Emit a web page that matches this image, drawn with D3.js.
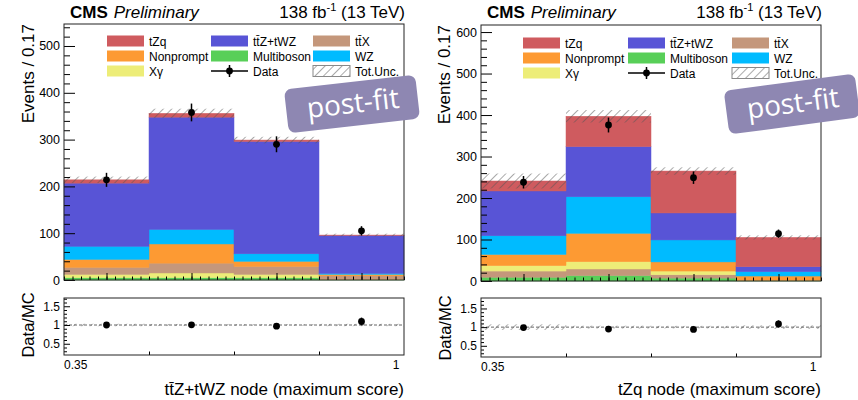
<!DOCTYPE html>
<html lang="en">
<head>
<meta charset="UTF-8">
<title>CMS post-fit DNN node distributions</title>
<script src="https://d3js.org/d3.v7.min.js"></script>
<style>
    body { margin: 0; background: #fff; }
    svg { display: block; font-family: "Liberation Sans", Arial, sans-serif; }
    .tick text { fill: #000; }
</style>
</head>
<body>
<svg id="chart" width="858" height="400"></svg>
<script>
const binEdges = [0.35, 0.5125, 0.675, 0.8375, 1];

// ttZ+tWZ node (left panel), stacked bottom -> top
const ttzMultiboson = [5, 5, 5, 0.5];
const ttzXgamma     = [7, 10, 7, 1];
const ttzTTX        = [15, 21, 17, 7.5];
const ttzNonprompt  = [17, 41, 11, 3];
const ttzWZ         = [28, 31, 16, 2];
const ttzTTZ        = [135, 240, 240, 81];
const ttzTZQ        = [7, 8, 3, 1];
const ttzUnc        = [7, 10, 7, 3];
const ttzData       = [214, 358, 290, 105];
const ttzDataErr    = [15, 19, 17, 10];

// tZq node (right panel), stacked bottom -> top
const tzqMultiboson = [9, 13, 7, 0.5];
const tzqTTX        = [15, 16, 8, 0.5];
const tzqXgamma     = [13, 17.5, 9, 1];
const tzqNonprompt  = [27, 68.5, 22, 10];
const tzqWZ         = [45, 88, 53, 10.5];
const tzqTTZ        = [108, 121, 65, 12];
const tzqTZQ        = [24, 73, 101, 70.5];
const tzqUnc        = [18, 15, 9, 5];
const tzqData       = [238, 376, 249, 114];
const tzqDataErr    = [15, 18, 15, 10];

const colors = {
    tZq: "#cf5b5f",
    ttZ: "#5854d6",
    ttX: "#c4977b",
    Nonprompt: "#fd9a33",
    Multiboson: "#58cf58",
    WZ: "#00bbff",
    Xgamma: "#eded78"
};

const legendEntries = [
    {key: "tZq", label: "tZq"},
    {key: "ttZ", label: "tt\u0304Z+tWZ"},
    {key: "ttX", label: "tt\u0304X"},
    {key: "Nonprompt", label: "Nonprompt"},
    {key: "Multiboson", label: "Multiboson"},
    {key: "WZ", label: "WZ"},
    {key: "Xgamma", label: "X\u03b3"},
    {key: "data", label: "Data"},
    {key: "unc", label: "Tot.Unc."}
];

const panels = [
    {
        x0: 64, x1: 404, top: 24, bottom: 280, yMax: 547,
        rTop: 298, rBottom: 355, rDomain: [0.2, 1.72],
        stack: [
            ["Multiboson", ttzMultiboson], ["Xgamma", ttzXgamma], ["ttX", ttzTTX],
            ["Nonprompt", ttzNonprompt], ["WZ", ttzWZ], ["ttZ", ttzTTZ], ["tZq", ttzTZQ]
        ],
        unc: ttzUnc, data: ttzData, dataErr: ttzDataErr,
        legendX: [107, 211, 313], legendY: 41,
        yLabelX: 34, ratioLabelX: 34, ratioLabelY: 325,
        box: [352, 104, -6.5],
        xTitle: "tt\u0304Z+tWZ node (maximum score)"
    },
    {
        x0: 481, x1: 821, top: 25, bottom: 281, yMax: 617,
        rTop: 298, rBottom: 357, rDomain: [0.2, 1.78],
        stack: [
            ["Multiboson", tzqMultiboson], ["ttX", tzqTTX], ["Xgamma", tzqXgamma],
            ["Nonprompt", tzqNonprompt], ["WZ", tzqWZ], ["ttZ", tzqTTZ], ["tZq", tzqTZQ]
        ],
        unc: tzqUnc, data: tzqData, dataErr: tzqDataErr,
        legendX: [523, 628, 732], legendY: 43,
        yLabelX: 450, ratioLabelX: 451, ratioLabelY: 328,
        box: [792, 104, -7.5],
        xTitle: "tZq node (maximum score)"
    }
];

const svg = d3.select("#chart");

// hatch pattern for the uncertainty
const defs = svg.append("defs");
defs.append("pattern")
    .attr("id", "hatch")
    .attr("patternUnits", "userSpaceOnUse")
    .attr("width", 6).attr("height", 6)
    .attr("patternTransform", "rotate(45)")
    .append("line")
    .attr("x1", 0).attr("y1", 0).attr("x2", 0).attr("y2", 6)
    .attr("stroke", "#555").attr("stroke-width", 1);

const bins = d3.range(binEdges.length - 1).map(i => ({lo: binEdges[i], hi: binEdges[i + 1], mid: (binEdges[i] + binEdges[i + 1]) / 2}));

function styleAxis(g) {
    g.select(".domain").remove();
    g.selectAll(".tick line").attr("stroke", "#000");
}

panels.forEach(p => {
    const g = svg.append("g");
    const x = d3.scaleLinear().domain([binEdges[0], binEdges[binEdges.length - 1]]).range([p.x0, p.x1]);
    const y = d3.scaleLinear().domain([0, p.yMax]).range([p.bottom, p.top]);
    const yr = d3.scaleLinear().domain(p.rDomain).range([p.rBottom, p.rTop]);

    // stacked histogram
    const totals = bins.map(() => 0);
    p.stack.forEach(([key, vals]) => {
        bins.forEach((b, i) => {
            const y0 = totals[i], y1 = totals[i] + vals[i];
            totals[i] = y1;
            g.append("rect")
                .attr("x", x(b.lo)).attr("width", x(b.hi) - x(b.lo))
                .attr("y", y(y1)).attr("height", y(y0) - y(y1))
                .attr("fill", colors[key]).attr("stroke", colors[key]).attr("stroke-width", 0.5);
        });
    });

    // uncertainty band
    bins.forEach((b, i) => {
        g.append("rect")
            .attr("x", x(b.lo)).attr("width", x(b.hi) - x(b.lo))
            .attr("y", y(totals[i] + p.unc[i]))
            .attr("height", y(totals[i] - p.unc[i]) - y(totals[i] + p.unc[i]))
            .attr("fill", "url(#hatch)");
    });

    // data points
    bins.forEach((b, i) => {
        g.append("line")
            .attr("x1", x(b.mid)).attr("x2", x(b.mid))
            .attr("y1", y(p.data[i] - p.dataErr[i])).attr("y2", y(p.data[i] + p.dataErr[i]))
            .attr("stroke", "#000").attr("stroke-width", 1.5);
        g.append("circle").attr("cx", x(b.mid)).attr("cy", y(p.data[i])).attr("r", 3.4).attr("fill", "#000");
    });

    // axes of upper pad
    const majorY = d3.range(0, p.yMax, 100);
    const minorY = d3.range(0, p.yMax, 20).filter(v => v % 100 !== 0);
    g.append("g").attr("transform", `translate(${p.x0},0)`)
        .call(d3.axisLeft(y).tickValues(minorY).tickSize(-6).tickFormat(""))
        .call(styleAxis);
    g.append("g").attr("transform", `translate(${p.x0},0)`)
        .call(d3.axisLeft(y).tickValues(majorY).tickSize(-11).tickPadding(4).tickFormat(d3.format("d")))
        .call(styleAxis)
        .selectAll("text").attr("font-size", 12.5).attr("font-family", "Liberation Sans, Arial, sans-serif");

    const minorX = d3.range(0, 41).map(k => binEdges[0] + k * (binEdges[1] - binEdges[0]) / 10);
    g.append("g").attr("transform", `translate(0,${p.bottom})`)
        .call(d3.axisBottom(x).tickValues(minorX).tickSize(-3.5).tickFormat(""))
        .call(styleAxis);
    g.append("g").attr("transform", `translate(0,${p.bottom})`)
        .call(d3.axisBottom(x).tickValues(bins.map(b => b.mid)).tickSize(-7).tickFormat(""))
        .call(styleAxis);

    g.append("rect")
        .attr("x", p.x0).attr("y", p.top).attr("width", p.x1 - p.x0).attr("height", p.bottom - p.top)
        .attr("fill", "none").attr("stroke", "#222").attr("stroke-width", 1);

    // legend
    legendEntries.forEach((e, k) => {
        const lx = p.legendX[k % 3], ly = p.legendY + Math.floor(k / 3) * 15;
        if (e.key === "data") {
            g.append("line").attr("x1", lx).attr("x2", lx + 37).attr("y1", ly).attr("y2", ly).attr("stroke", "#000").attr("stroke-width", 1.5);
            g.append("line").attr("x1", lx + 18.5).attr("x2", lx + 18.5).attr("y1", ly - 6).attr("y2", ly + 6).attr("stroke", "#000").attr("stroke-width", 1.5);
            g.append("circle").attr("cx", lx + 18.5).attr("cy", ly).attr("r", 3.4).attr("fill", "#000");
        } else if (e.key === "unc") {
            g.append("rect").attr("x", lx).attr("y", ly - 5.5).attr("width", 37).attr("height", 11)
                .attr("fill", "url(#hatch)").attr("stroke", "#888").attr("stroke-width", 1);
        } else {
            g.append("rect").attr("x", lx).attr("y", ly - 5.5).attr("width", 37).attr("height", 11)
                .attr("fill", colors[e.key]);
        }
        g.append("text").attr("x", lx + 42).attr("y", ly + 4.5).attr("font-size", 12).text(e.label);
    });

    // post-fit label
    const bx = g.append("g").attr("transform", `translate(${p.box[0]},${p.box[1]}) rotate(${p.box[2]})`);
    bx.append("rect").attr("x", -66).attr("y", -22).attr("width", 132).attr("height", 44).attr("rx", 7)
        .attr("fill", "#8e87b2");
    bx.append("text").attr("x", 1).attr("y", 9).attr("text-anchor", "middle")
        .attr("font-family", "Open Sans, DejaVu Sans, sans-serif").attr("font-size", 28)
        .attr("fill", "#fff").text("post-fit");

    // CMS header
    const hd = g.append("text").attr("x", p.x0 + 6).attr("y", 18).attr("font-size", 17);
    hd.append("tspan").attr("font-weight", "bold").text("CMS");
    hd.append("tspan").attr("font-style", "italic").attr("dx", 6).text("Preliminary");
    const lumi = g.append("text").attr("x", p.x1 + 1).attr("y", 18).attr("font-size", 17).attr("text-anchor", "end");
    lumi.append("tspan").text("138 fb");
    lumi.append("tspan").attr("font-size", 11).attr("dy", -7).text("-1");
    lumi.append("tspan").attr("dy", 7).text(" (13 TeV)");

    g.append("text")
        .attr("transform", `translate(${p.yLabelX},${p.top}) rotate(-90)`)
        .attr("text-anchor", "end").attr("font-size", 17).text("Events / 0.17");

    // ratio pad
    const ratio = p.data.map((d, i) => d / totals[i]);
    bins.forEach((b, i) => {
        const r = p.unc[i] / totals[i];
        g.append("rect")
            .attr("x", x(b.lo)).attr("width", x(b.hi) - x(b.lo))
            .attr("y", yr(1 + r)).attr("height", yr(1 - r) - yr(1 + r))
            .attr("fill", "url(#hatch)");
    });
    g.append("line").attr("x1", p.x0).attr("x2", p.x1).attr("y1", yr(1)).attr("y2", yr(1))
        .attr("stroke", "#666").attr("stroke-dasharray", "3,2").attr("stroke-width", 1);
    bins.forEach((b, i) => {
        g.append("line")
            .attr("x1", x(b.mid)).attr("x2", x(b.mid))
            .attr("y1", yr(ratio[i] - p.dataErr[i] / totals[i])).attr("y2", yr(ratio[i] + p.dataErr[i] / totals[i]))
            .attr("stroke", "#000").attr("stroke-width", 1.5);
        g.append("circle").attr("cx", x(b.mid)).attr("cy", yr(ratio[i])).attr("r", 3.4).attr("fill", "#000");
    });

    const rMinor = d3.range(3, 18).map(v => v / 10).filter(v => v <= p.rDomain[1] && Math.abs(v * 2 - Math.round(v * 2)) > 1e-6);
    g.append("g").attr("transform", `translate(${p.x0},0)`)
        .call(d3.axisLeft(yr).tickValues(rMinor).tickSize(-3).tickFormat(""))
        .call(styleAxis);
    g.append("g").attr("transform", `translate(${p.x0},0)`)
        .call(d3.axisLeft(yr).tickValues([0.5, 1, 1.5]).tickSize(-6).tickPadding(4).tickFormat(d => d3.format("")(d)))
        .call(styleAxis)
        .selectAll("text").attr("font-size", 12).attr("font-family", "Liberation Sans, Arial, sans-serif");
    g.append("g").attr("transform", `translate(0,${p.rBottom})`)
        .call(d3.axisBottom(x).tickValues(binEdges.slice(1, -1)).tickSize(-3.5).tickFormat(""))
        .call(styleAxis);
    g.append("rect")
        .attr("x", p.x0).attr("y", p.rTop).attr("width", p.x1 - p.x0).attr("height", p.rBottom - p.rTop)
        .attr("fill", "none").attr("stroke", "#222").attr("stroke-width", 1);

    g.append("text").attr("x", x(binEdges[0])).attr("y", p.rBottom + 14).attr("font-size", 12).text("0.35");
    g.append("text").attr("x", x(binEdges[binEdges.length - 1]) - 8).attr("y", p.rBottom + 14)
        .attr("text-anchor", "middle").attr("font-size", 12).text("1");

    g.append("text")
        .attr("transform", `translate(${p.ratioLabelX},${p.ratioLabelY}) rotate(-90)`)
        .attr("text-anchor", "middle").attr("font-size", 16.5).text("Data/MC");

    g.append("text").attr("x", p.x1).attr("y", 395).attr("text-anchor", "end")
        .attr("font-size", 17).text(p.xTitle);
});
</script>
</body>
</html>
